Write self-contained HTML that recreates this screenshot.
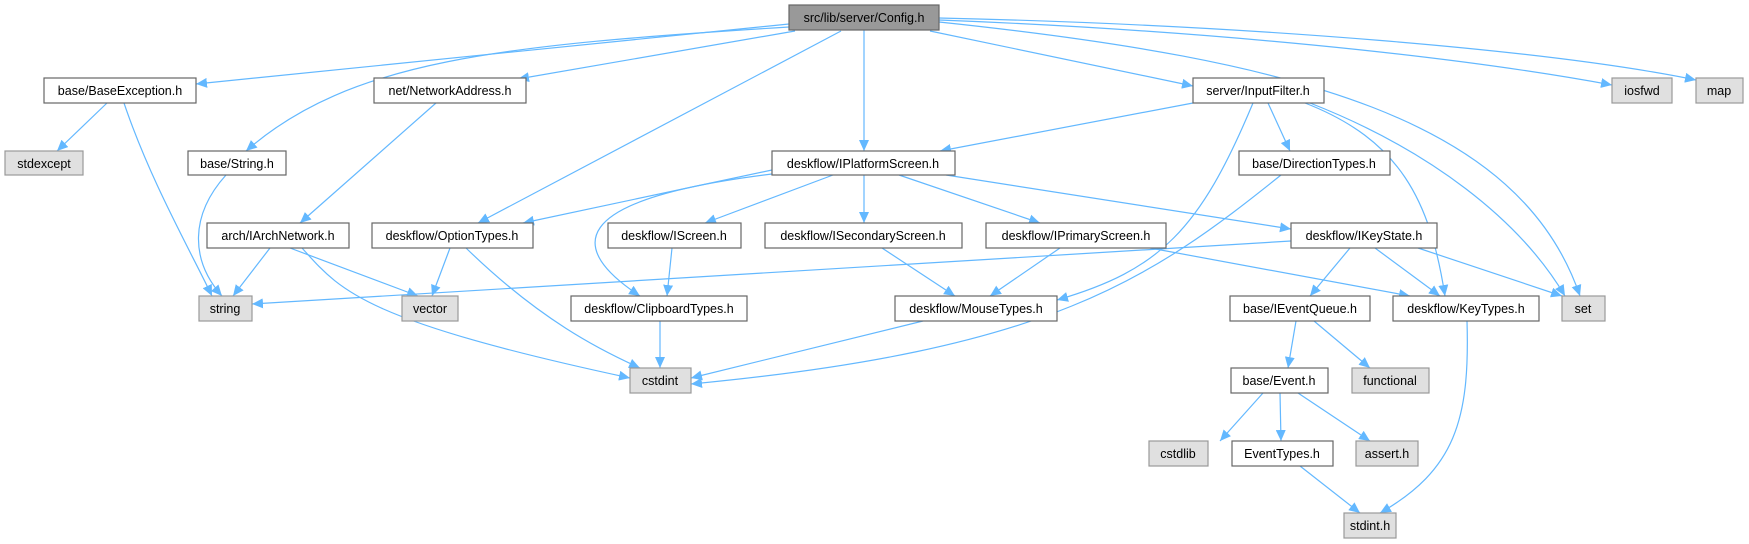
<!DOCTYPE html>
<html><head><meta charset="utf-8"><style>html,body{margin:0;padding:0;background:#fff}svg{display:block}</style></head>
<body>
<svg width="1749" height="544" viewBox="0 0 1749 544" xmlns="http://www.w3.org/2000/svg" font-family="Liberation Sans, Arial, sans-serif" font-size="12.5">
<defs><marker id="a" markerUnits="userSpaceOnUse" markerWidth="12" markerHeight="10" refX="11" refY="5" orient="auto"><path d="M0,0 L11,5 L0,10 Z" fill="#63b8ff"/></marker></defs>
<g fill="none" stroke="#63b8ff" stroke-width="1.2" marker-end="url(#a)">
<path d="M789,24 L196,84"/>
<path d="M789,27 C500,45 350,60 246,151"/>
<path d="M795,31 L518,79"/>
<path d="M841,31 L478,223"/>
<path d="M864,30 L864,151"/>
<path d="M930,31 L1193,86"/>
<path d="M939,22 C1300,60 1520,120 1580,296"/>
<path d="M939,20 C1200,30 1450,55 1612,85"/>
<path d="M939,18 C1250,25 1550,50 1696,80"/>
<path d="M107,103 L57,151"/>
<path d="M124,103 C150,180 190,250 212,296"/>
<path d="M226,175 C190,215 190,260 222,296"/>
<path d="M436,103 L300,223"/>
<path d="M270,248 L233,296"/>
<path d="M290,248 L418,296"/>
<path d="M302,248 C340,290 360,320 630,378"/>
<path d="M450,248 L432,296"/>
<path d="M466,248 C540,320 600,350 640,368"/>
<path d="M1193,103 L940,151"/>
<path d="M1253,103 C1200,230 1160,270 1057,300"/>
<path d="M1268,103 L1290,151"/>
<path d="M1305,103 C1400,140 1430,200 1445,296"/>
<path d="M1310,103 C1430,150 1520,220 1565,296"/>
<path d="M772,170 L523,223"/>
<path d="M772,174 C560,200 570,250 640,296"/>
<path d="M833,175 L705,223"/>
<path d="M864,175 L864,223"/>
<path d="M899,175 L1040,223"/>
<path d="M946,175 L1291,229"/>
<path d="M672,248 L667,296"/>
<path d="M882,248 L955,296"/>
<path d="M1060,248 L990,296"/>
<path d="M1150,248 L1410,296"/>
<path d="M1291,241 L252,304"/>
<path d="M1350,248 L1310,296"/>
<path d="M1375,248 L1440,296"/>
<path d="M1418,248 L1562,296"/>
<path d="M1281,175 C1150,280 1050,350 691,384"/>
<path d="M660,321 L660,368"/>
<path d="M923,321 L691,378"/>
<path d="M1296,321 L1288,368"/>
<path d="M1314,321 L1370,368"/>
<path d="M1263,393 L1220,441"/>
<path d="M1280,393 L1281,441"/>
<path d="M1298,393 L1370,441"/>
<path d="M1300,466 L1360,513"/>
<path d="M1467,321 C1470,420 1455,470 1380,513"/>
</g>
<g stroke-width="1.2">
<rect x="789" y="5" width="150" height="25" fill="#999" stroke="#666"/>
<g fill="#fff" stroke="#666">
<rect x="44" y="78" width="152" height="25"/>
<rect x="374" y="78" width="152" height="25"/>
<rect x="188" y="151" width="98" height="24"/>
<rect x="207" y="223" width="142" height="25"/>
<rect x="372" y="223" width="161" height="25"/>
<rect x="772" y="151" width="183" height="24"/>
<rect x="608" y="223" width="133" height="25"/>
<rect x="765" y="223" width="197" height="25"/>
<rect x="986" y="223" width="180" height="25"/>
<rect x="1193" y="78" width="131" height="25"/>
<rect x="1239" y="151" width="151" height="24"/>
<rect x="1291" y="223" width="146" height="25"/>
<rect x="571" y="296" width="176" height="25"/>
<rect x="895" y="296" width="162" height="25"/>
<rect x="1230" y="296" width="140" height="25"/>
<rect x="1393" y="296" width="146" height="25"/>
<rect x="1231" y="368" width="97" height="25"/>
<rect x="1232" y="441" width="101" height="25"/>
</g>
<g fill="#e0e0e0" stroke="#999">
<rect x="5" y="151" width="78" height="24"/>
<rect x="1612" y="78" width="60" height="25"/>
<rect x="1696" y="78" width="47" height="25"/>
<rect x="199" y="296" width="53" height="25"/>
<rect x="402" y="296" width="56" height="25"/>
<rect x="630" y="368" width="61" height="25"/>
<rect x="1562" y="296" width="43" height="25"/>
<rect x="1352" y="368" width="77" height="25"/>
<rect x="1149" y="441" width="59" height="25"/>
<rect x="1356" y="441" width="62" height="25"/>
<rect x="1344" y="513" width="52" height="25"/>
</g>
</g>
<g fill="#000" text-anchor="middle">
<text x="864" y="22">src/lib/server/Config.h</text>
<text x="120" y="95">base/BaseException.h</text>
<text x="450" y="95">net/NetworkAddress.h</text>
<text x="237" y="168">base/String.h</text>
<text x="278" y="240">arch/IArchNetwork.h</text>
<text x="452" y="240">deskflow/OptionTypes.h</text>
<text x="863" y="168">deskflow/IPlatformScreen.h</text>
<text x="674" y="240">deskflow/IScreen.h</text>
<text x="863" y="240">deskflow/ISecondaryScreen.h</text>
<text x="1076" y="240">deskflow/IPrimaryScreen.h</text>
<text x="1258" y="95">server/InputFilter.h</text>
<text x="1314" y="168">base/DirectionTypes.h</text>
<text x="1364" y="240">deskflow/IKeyState.h</text>
<text x="659" y="313">deskflow/ClipboardTypes.h</text>
<text x="976" y="313">deskflow/MouseTypes.h</text>
<text x="1300" y="313">base/IEventQueue.h</text>
<text x="1466" y="313">deskflow/KeyTypes.h</text>
<text x="1279" y="385">base/Event.h</text>
<text x="1282" y="458">EventTypes.h</text>
<text x="44" y="168">stdexcept</text>
<text x="1642" y="95">iosfwd</text>
<text x="1719" y="95">map</text>
<text x="225" y="313">string</text>
<text x="430" y="313">vector</text>
<text x="660" y="385">cstdint</text>
<text x="1583" y="313">set</text>
<text x="1390" y="385">functional</text>
<text x="1178" y="458">cstdlib</text>
<text x="1387" y="458">assert.h</text>
<text x="1370" y="530">stdint.h</text>
</g>
</svg>
</body></html>
